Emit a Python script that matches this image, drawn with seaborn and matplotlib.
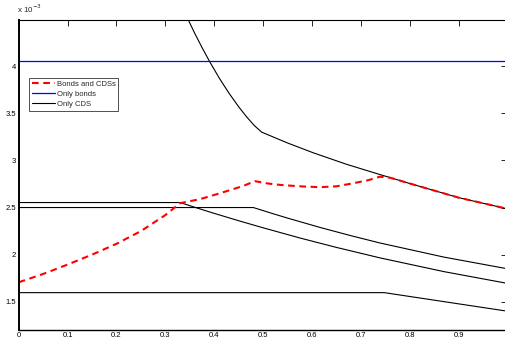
import numpy as np
import pandas as pd
import seaborn as sns
import matplotlib
matplotlib.use("Agg")
import matplotlib.pyplot as plt
from matplotlib.lines import Line2D

# Values are in units of 1e-3
bonds_cds_x = [0.0, 0.05, 0.1, 0.15, 0.2, 0.25, 0.3, 0.33, 0.371, 0.412, 0.46, 0.483,
               0.51, 0.535, 0.575, 0.616, 0.65, 0.685, 0.715, 0.739, 0.76, 0.8, 0.9, 1.0]
bonds_cds_y = [1.707, 1.795, 1.895, 2.0, 2.115, 2.25, 2.42, 2.546, 2.589, 2.652, 2.73, 2.78,
               2.755, 2.74, 2.725, 2.716, 2.725, 2.758, 2.79, 2.827, 2.816, 2.755, 2.605, 2.486]

only_bonds_x = [0.0, 1.0]
only_bonds_y = [4.053, 4.053]

cds_a_x = [0.33, 0.347, 0.36, 0.375, 0.391, 0.41, 0.43, 0.45, 0.466, 0.482, 0.497,
           0.55, 0.603, 0.67, 0.739, 0.8, 0.9, 1.0]
cds_a_y = [4.68, 4.49, 4.35, 4.198, 4.045, 3.876, 3.715, 3.569, 3.464, 3.37, 3.30,
           3.185, 3.08, 2.96, 2.85, 2.755, 2.605, 2.486]

cds_b_x = [0.0, 0.33, 0.371, 0.4, 0.45, 0.5, 0.576, 0.65, 0.739, 0.87, 1.0]
cds_b_y = [2.553, 2.553, 2.485, 2.438, 2.360, 2.285, 2.176, 2.077, 1.966, 1.82, 1.695]

cds_c_x = [0.0, 0.48, 0.52, 0.55, 0.617, 0.68, 0.739, 0.87, 1.0]
cds_c_y = [2.5, 2.5, 2.435, 2.388, 2.288, 2.201, 2.124, 1.974, 1.85]

cds_d_x = [0.0, 0.748, 1.0]
cds_d_y = [1.597, 1.597, 1.40]

x_ticks = [0, 0.1, 0.2, 0.3, 0.4, 0.5, 0.6, 0.7, 0.8, 0.9]
x_tick_labels = ["0", "0.1", "0.2", "0.3", "0.4", "0.5", "0.6", "0.7", "0.8", "0.9"]
y_ticks = [1.5, 2, 2.5, 3, 3.5, 4]
y_tick_labels = ["1.5", "2", "2.5", "3", "3.5", "4"]

sns.set_style("white")
plt.rcParams["font.family"] = ["Liberation Sans", "DejaVu Sans"]

fig = plt.figure(figsize=(5.06, 3.40), dpi=100)
ax = fig.add_axes([18.7 / 506, 10.5 / 340, 488.8 / 506, 310 / 340])

for xs, ys in [(cds_a_x, cds_a_y), (cds_b_x, cds_b_y), (cds_c_x, cds_c_y), (cds_d_x, cds_d_y)]:
    sns.lineplot(x=xs, y=ys, ax=ax, color="black", lw=0.8, sort=False, estimator=None)

sns.lineplot(x=only_bonds_x, y=only_bonds_y, ax=ax, color="#0000ff", lw=0.9,
             sort=False, estimator=None)
sns.lineplot(x=bonds_cds_x, y=bonds_cds_y, ax=ax, color="#ff0000", lw=1.5,
             sort=False, estimator=None, linestyle=(0, (3.2, 2.2)))

ax.set_xlim(0, 1.0)
ax.set_ylim(1.206, 4.495)
ax.set_xticks(x_ticks)
ax.set_xticklabels(x_tick_labels)
ax.set_yticks(y_ticks)
ax.set_yticklabels(y_tick_labels)
ax.tick_params(direction="in", length=4, width=0.6, labelsize=5.5, pad=2,
               top=True, right=True, colors="black")
for s in ax.spines.values():
    s.set_color("black")
    s.set_linewidth(0.8)
ax.spines["left"].set_linewidth(1.4)
ax.spines["bottom"].set_linewidth(1.0)

ax.text(-0.003, 1.015, "x 10$^{-3}$", transform=ax.transAxes, fontsize=5.8,
        ha="left", va="bottom")

handles = [
    Line2D([], [], color="#ff0000", lw=1.5, linestyle=(0, (3.2, 2.2))),
    Line2D([], [], color="#0000ff", lw=0.9),
    Line2D([], [], color="black", lw=0.8),
]
leg = ax.legend(handles, ["Bonds and CDSs", "Only bonds", "Only CDS"],
                loc="upper left", bbox_to_anchor=(0.021, 0.811), borderaxespad=0,
                fontsize=5.5, frameon=True, fancybox=False, handlelength=3.0,
                handletextpad=0.3, borderpad=0.35, labelspacing=0.35)
leg.get_frame().set_edgecolor("black")
leg.get_frame().set_linewidth(0.6)

fig.savefig("out.png", dpi=100)
